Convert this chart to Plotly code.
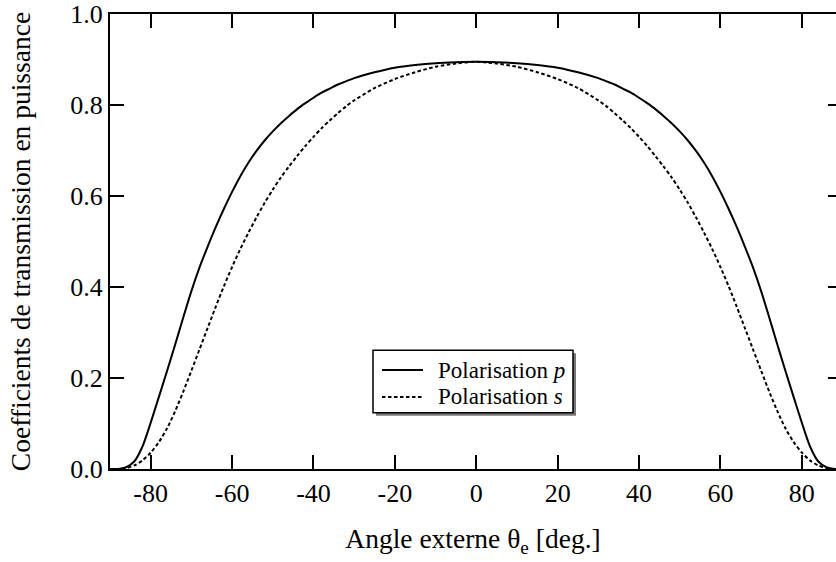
import plotly.graph_objects as go

# ---- data ----
angle = [-90, -88, -86, -84, -82, -80, -78, -76, -74, -72, -70, -68, -66, -64, -62, -60,
         -58, -56, -54, -52, -50, -48, -46, -44, -42, -40, -38, -36, -34, -32, -30,
         -25, -20, -15, -10, -5, 0, 5, 10, 15, 20, 25,
         30, 32, 34, 36, 38, 40, 42, 44, 46, 48, 50, 52, 54, 56, 58, 60, 62, 64,
         66, 68, 70, 72, 74, 76, 78, 80, 82, 84, 86, 88, 90]

t_p = [0.000, 0.000, 0.004, 0.017, 0.050, 0.102, 0.158, 0.215, 0.273, 0.333, 0.391, 0.443,
       0.489, 0.532, 0.572, 0.609, 0.643, 0.673, 0.699, 0.722, 0.742, 0.760, 0.776, 0.791,
       0.804, 0.816, 0.827, 0.836, 0.845, 0.852, 0.859,
       0.872, 0.882, 0.888, 0.892, 0.894, 0.895, 0.894, 0.892, 0.888, 0.882, 0.872,
       0.859, 0.852, 0.845, 0.836, 0.827, 0.816, 0.804, 0.791, 0.776, 0.760, 0.742, 0.722,
       0.699, 0.673, 0.643, 0.609, 0.572, 0.532, 0.489, 0.443, 0.391, 0.333, 0.273, 0.215,
       0.158, 0.102, 0.050, 0.017, 0.004, 0.000, 0.000]

t_s = [0.000, 0.000, 0.002, 0.008, 0.019, 0.036, 0.059, 0.089, 0.127, 0.170, 0.216, 0.263,
       0.310, 0.357, 0.402, 0.444, 0.483, 0.519, 0.553, 0.585, 0.614, 0.641, 0.665, 0.688,
       0.710, 0.730, 0.749, 0.766, 0.782, 0.797, 0.810,
       0.837, 0.857, 0.872, 0.884, 0.891, 0.895, 0.891, 0.884, 0.872, 0.857, 0.837,
       0.810, 0.797, 0.782, 0.766, 0.749, 0.730, 0.710, 0.688, 0.665, 0.641, 0.614, 0.585,
       0.553, 0.519, 0.483, 0.444, 0.402, 0.357, 0.310, 0.263, 0.216, 0.170, 0.127, 0.089,
       0.059, 0.036, 0.019, 0.008, 0.002, 0.000, 0.000]

x_ticks = [-80, -60, -40, -20, 0, 20, 40, 60, 80]
x_ticktext = ["-80", "-60", "-40", "-20", "0", "20", "40", "60", "80"]
y_ticks = [0.0, 0.2, 0.4, 0.6, 0.8, 1.0]
y_ticktext = ["0.0", "0.2", "0.4", "0.6", "0.8", "1.0"]

name_p = "Polarisation <i>p</i>"
name_s = "Polarisation <i>s</i>"

FONT = "Liberation Serif, Times New Roman, serif"
DASH = "3.5px,2.5px"
TICKSIZE = 26
TITLESIZE = 27.5

# plot area in pixels (for placing the hand-drawn legend)
L, R, T, B = 110, 836, 12, 469.5
def px(x):
    return (x - L) / (R - L)
def py(y):
    return (B - y) / (B - T)

fig = go.Figure()
fig.add_trace(go.Scatter(x=angle, y=t_p, mode="lines", name=name_p, line_shape="spline",
                         line=dict(color="black", width=2, smoothing=0.8), showlegend=False))
fig.add_trace(go.Scatter(x=angle, y=t_s, mode="lines", name=name_s, line_shape="spline",
                         line=dict(color="black", width=2, dash=DASH, smoothing=0.8),
                         showlegend=False))
# invisible trace to carry the right-hand tick axis
fig.add_trace(go.Scatter(x=angle, y=t_p, mode="lines", yaxis="y2", opacity=0,
                         hoverinfo="skip", showlegend=False, line=dict(color="black")))

fig.update_layout(
    width=836, height=562,
    margin=dict(l=L, r=836 - R, t=T, b=562 - B),
    paper_bgcolor="white", plot_bgcolor="white",
    font=dict(family=FONT, size=TICKSIZE, color="black"),
    xaxis=dict(range=[-90, 88.4], tickvals=x_ticks, ticktext=x_ticktext,
               ticks="inside", ticklen=14, tickwidth=2, tickcolor="black",
               showline=True, linewidth=2, linecolor="black", mirror="ticks",
               showgrid=False, zeroline=False, ticklabeloverflow="allow",
               tickfont=dict(size=TICKSIZE),
               title=dict(text="Angle externe θ<sub>e</sub> [deg.]",
                          font=dict(size=TITLESIZE), standoff=22)),
    yaxis=dict(range=[0, 1], tickvals=y_ticks, ticktext=y_ticktext,
               ticks="inside", ticklen=14, tickwidth=2, tickcolor="black",
               showline=True, linewidth=2, linecolor="black", mirror=False,
               showgrid=False, zeroline=False, ticklabeloverflow="allow",
               tickfont=dict(size=TICKSIZE),
               title=dict(text="Coefficients de transmission en puissance",
                          font=dict(size=TITLESIZE), standoff=32)),
    yaxis2=dict(range=[0, 1], overlaying="y", side="right", tickvals=y_ticks,
                ticks="inside", ticklen=8, tickwidth=2, tickcolor="black",
                showticklabels=False, showline=False, showgrid=False, zeroline=False),
)

# ---- legend box drawn by hand (with drop shadow) ----
bx0, bx1, by0, by1 = 373, 573, 350, 413
sh = 3
fig.add_shape(type="rect", xref="paper", yref="paper",
              x0=px(bx0 + sh), x1=px(bx1 + sh), y0=py(by0 + sh), y1=py(by1 + sh),
              line=dict(width=0), fillcolor="#777777", layer="above")
fig.add_shape(type="rect", xref="paper", yref="paper",
              x0=px(bx0), x1=px(bx1), y0=py(by0), y1=py(by1),
              line=dict(width=1.5, color="black"), fillcolor="white", layer="above")
rows = [(370, dict(color="black", width=2), name_p),
        (397, dict(color="black", width=2, dash=DASH), name_s)]
for yy, ln, txt in rows:
    fig.add_shape(type="line", xref="paper", yref="paper",
                  x0=px(382), x1=px(423), y0=py(yy), y1=py(yy), line=ln, layer="above")
    fig.add_annotation(xref="paper", yref="paper", x=px(436), y=py(yy),
                       xanchor="left", yanchor="middle", text=txt, showarrow=False,
                       font=dict(family=FONT, size=23, color="black"))

fig.write_html("out.html")
